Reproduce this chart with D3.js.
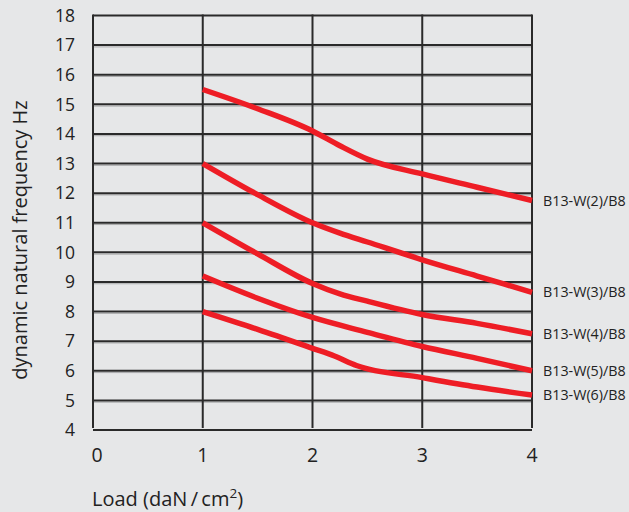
<!DOCTYPE html>
<meta charset="utf-8">
<style>
body { margin: 0; background: #e6e7e8; }
svg { display: block; }
text { font-family: "Open Sans", sans-serif; fill: #222; }
</style>
<svg width="629" height="512"></svg>
<script src="https://d3js.org/d3.v7.min.js"></script>
<script>

var xTicks = [0, 1, 2, 3, 4],
    yTicks = d3.range(4, 19);

var seriesNames = ["B13-W(2)/B8", "B13-W(3)/B8", "B13-W(4)/B8", "B13-W(5)/B8", "B13-W(6)/B8"];

var w2 = [[1, 15.5], [1.5, 14.85], [2, 14.1], [2.25, 13.6], [2.5, 13.15], [3, 12.65], [3.5, 12.2], [4, 11.75]],
    w3 = [[1, 13.0], [1.5, 11.95], [2, 11.0], [2.25, 10.65], [2.5, 10.35], [3, 9.75], [3.5, 9.2], [4, 8.65]],
    w4 = [[1, 11.0], [1.5, 9.95], [2, 8.95], [2.25, 8.6], [2.5, 8.35], [3, 7.9], [3.5, 7.6], [4, 7.25]],
    w5 = [[1, 9.2], [1.5, 8.45], [2, 7.8], [2.5, 7.3], [3, 6.82], [3.5, 6.42], [4, 6.0]],
    w6 = [[1, 8.0], [1.5, 7.4], [2, 6.76], [2.2, 6.5], [2.4, 6.18], [3, 5.77], [3.5, 5.45], [4, 5.18]];

var series = [w2, w3, w4, w5, w6];

var svg = d3.select("svg");

var x = d3.scaleLinear().domain([0, 4]).range([93, 532]),
    y = d3.scaleLinear().domain([4, 18]).range([430, 15.5]);

var grid = svg.append("g");

// faint shadow under horizontal lines
grid.selectAll(".shadow")
  .data(yTicks.slice(1, -1))
  .enter().append("line")
    .attr("x1", x(0)).attr("x2", x(4))
    .attr("y1", function(d) { return y(d) + 1.8; })
    .attr("y2", function(d) { return y(d) + 1.8; })
    .attr("stroke", "#a9aaab")
    .attr("stroke-width", 1);

grid.selectAll(".h")
  .data(yTicks)
  .enter().append("line")
    .attr("x1", x(0)).attr("x2", x(4))
    .attr("y1", function(d) { return y(d); })
    .attr("y2", function(d) { return y(d); })
    .attr("stroke", "#2a2a2a")
    .attr("stroke-width", 2);

grid.selectAll(".v")
  .data(xTicks)
  .enter().append("line")
    .attr("x1", function(d) { return x(d); })
    .attr("x2", function(d) { return x(d); })
    .attr("y1", y(18) - 1).attr("y2", y(4) - 2)
    .attr("stroke", "#2a2a2a")
    .attr("stroke-width", 2);

svg.selectAll(".ytick")
  .data(yTicks)
  .enter().append("text")
    .attr("x", 75)
    .attr("y", function(d) { return y(d); })
    .attr("dy", "0.36em")
    .attr("text-anchor", "end")
    .style("font-size", "17.5px")
    .text(function(d) { return d; });

svg.selectAll(".xtick")
  .data(xTicks)
  .enter().append("text")
    .attr("x", function(d) { return d === 0 ? x(d) + 4 : x(d); })
    .attr("y", 462)
    .attr("text-anchor", "middle")
    .style("font-size", "19.5px")
    .text(function(d) { return d; });

var line = d3.line()
    .x(function(d) { return x(d[0]); })
    .y(function(d) { return y(d[1]); })
    .curve(d3.curveMonotoneX);

svg.selectAll(".curve")
  .data(series)
  .enter().append("path")
    .attr("d", line)
    .attr("fill", "none")
    .attr("stroke", "#ee1d25")
    .attr("stroke-width", 5.5);

svg.selectAll(".slabel")
  .data(series)
  .enter().append("text")
    .attr("x", 543)
    .attr("y", function(d) { return y(d[d.length - 1][1]); })
    .attr("dy", "0.35em")
    .style("font-size", "14.3px")
    .text(function(d, i) { return seriesNames[i]; });

svg.append("text")
    .attr("transform", "translate(27,240) rotate(-90)")
    .attr("text-anchor", "middle")
    .style("font-size", "20px")
    .text("dynamic natural frequency Hz");

var xt = svg.append("text")
    .attr("x", 92)
    .attr("y", 506)
    .style("font-size", "20px");
xt.append("tspan").text("Load (daN\u2009/\u2009cm");
xt.append("tspan").attr("dy", -8).style("font-size", "13.5px").text("2");
xt.append("tspan").attr("dy", 8).text(")");

</script>
